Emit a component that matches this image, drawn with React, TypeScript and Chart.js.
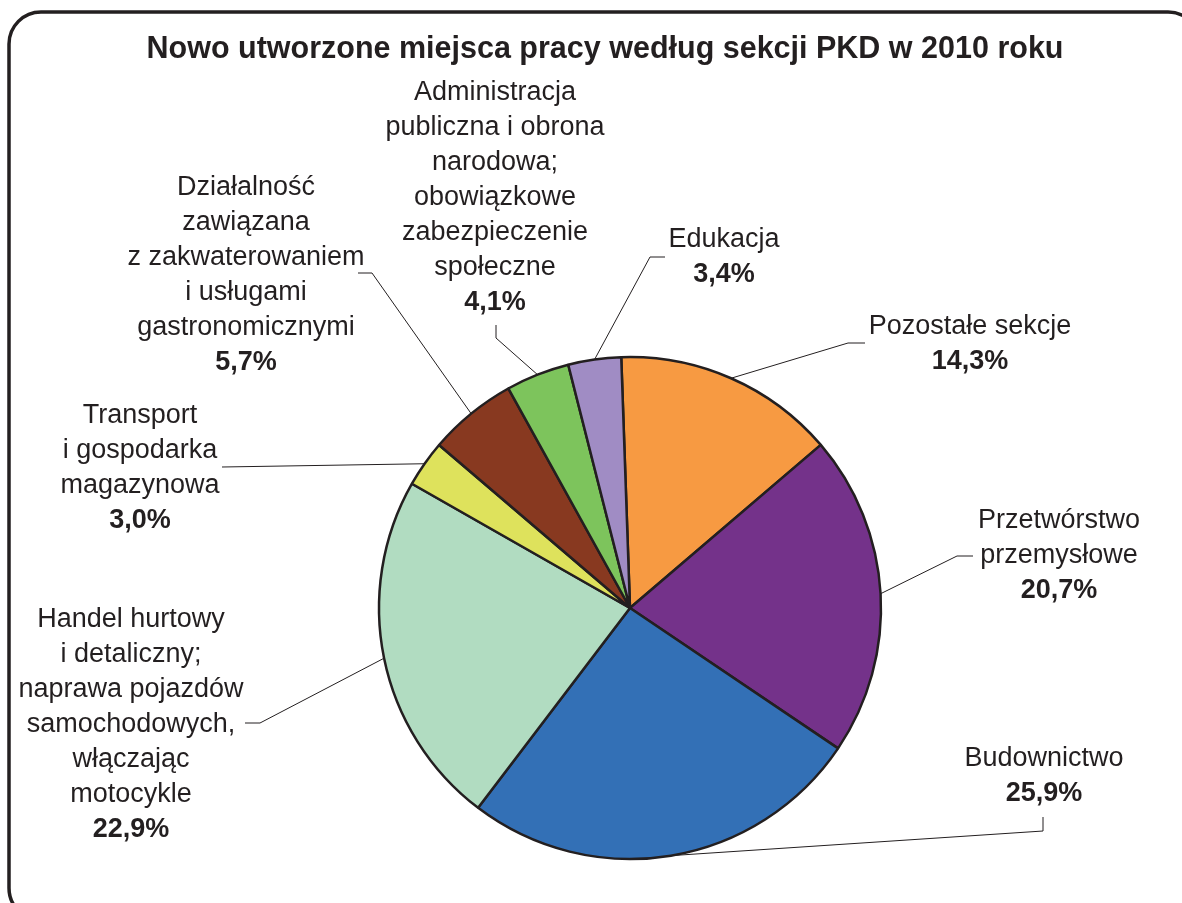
import { useEffect, useRef } from "react";
import { Chart, registerables } from "chart.js";

Chart.register(...registerables);

const TITLE = "Nowo utworzone miejsca pracy według sekcji PKD w 2010 roku";

const CATEGORIES = [
  "Pozostałe sekcje",
  "Przetwórstwo przemysłowe",
  "Budownictwo",
  "Handel hurtowy i detaliczny; naprawa pojazdów samochodowych, włączając motocykle",
  "Transport i gospodarka magazynowa",
  "Działalność zawiązana z zakwaterowaniem i usługami gastronomicznymi",
  "Administracja publiczna i obrona narodowa; obowiązkowe zabezpieczenie społeczne",
  "Edukacja",
];

const LABEL_LINES = [
  ["Pozostałe sekcje"],
  ["Przetwórstwo", "przemysłowe"],
  ["Budownictwo"],
  ["Handel hurtowy", "i detaliczny;", "naprawa pojazdów", "samochodowych,", "włączając", "motocykle"],
  ["Transport", "i gospodarka", "magazynowa"],
  ["Działalność", "zawiązana", "z zakwaterowaniem", "i usługami", "gastronomicznymi"],
  ["Administracja", "publiczna i obrona", "narodowa;", "obowiązkowe", "zabezpieczenie", "społeczne"],
  ["Edukacja"],
];

const VALUES = [14.3, 20.7, 25.9, 22.9, 3.0, 5.7, 4.1, 3.4];

const COLORS = ["#F79A42", "#74328A", "#3370B6", "#B1DCC1", "#DEE25C", "#883920", "#7DC45C", "#A08CC4"];

// layout of the label blocks: centre x, first line centre y, leader line elbows
const LABEL_LAYOUT = [
  { x: 970, y: 327, leader: [[865, 343], [848, 343]] },
  { x: 1059, y: 521, leader: [[973, 556], [957, 556]] },
  { x: 1044, y: 759, leader: [[1043, 817], [1043, 831]] },
  { x: 131, y: 620, leader: [[245, 723], [260, 723]] },
  { x: 140, y: 416, leader: [[222, 467]] },
  { x: 246, y: 188, leader: [[358, 273], [372, 273]] },
  { x: 495, y: 93, leader: [[496, 325], [496, 338]] },
  { x: 724, y: 240, leader: [[665, 257], [650, 257]] },
];

const INK = "#231F20";
const FONT = "'Liberation Sans', Arial, sans-serif";
const LINE_H = 35;

const fmt = (v: number) => v.toFixed(1).replace(".", ",") + "%";

const decorPlugin = {
  id: "decor",
  afterDraw(chart: any) {
    const ctx = chart.ctx as CanvasRenderingContext2D;
    ctx.save();

    // frame
    ctx.strokeStyle = INK;
    ctx.lineWidth = 3.5;
    const fx = 9, fy = 12, fw = 1200 - 9, fh = 920 - 12, r = 32;
    ctx.beginPath();
    ctx.moveTo(fx + r, fy);
    ctx.lineTo(fx + fw - r, fy);
    ctx.arcTo(fx + fw, fy, fx + fw, fy + r, r);
    ctx.lineTo(fx + fw, fy + fh - r);
    ctx.arcTo(fx + fw, fy + fh, fx + fw - r, fy + fh, r);
    ctx.lineTo(fx + r, fy + fh);
    ctx.arcTo(fx, fy + fh, fx, fy + fh - r, r);
    ctx.lineTo(fx, fy + r);
    ctx.arcTo(fx, fy, fx + r, fy, r);
    ctx.closePath();
    ctx.stroke();

    // title
    ctx.fillStyle = INK;
    ctx.textAlign = "center";
    ctx.textBaseline = "middle";
    ctx.font = `bold 30.5px ${FONT}`;
    ctx.fillText(TITLE, 605, 50);

    // leader lines
    const meta = chart.getDatasetMeta(0);
    ctx.lineWidth = 1;
    ctx.strokeStyle = INK;
    meta.data.forEach((arc: any, i: number) => {
      const p = arc.getProps(["x", "y", "startAngle", "endAngle", "outerRadius"], true);
      const mid = (p.startAngle + p.endAngle) / 2;
      const ex = p.x + Math.cos(mid) * p.outerRadius;
      const ey = p.y + Math.sin(mid) * p.outerRadius;
      const pts = LABEL_LAYOUT[i].leader;
      ctx.beginPath();
      ctx.moveTo(pts[0][0], pts[0][1]);
      for (let k = 1; k < pts.length; k++) ctx.lineTo(pts[k][0], pts[k][1]);
      ctx.lineTo(ex, ey);
      ctx.stroke();
    });

    // labels
    LABEL_LINES.forEach((lines, i) => {
      const lay = LABEL_LAYOUT[i];
      ctx.font = `27px ${FONT}`;
      lines.forEach((t, k) => ctx.fillText(t, lay.x, lay.y + k * LINE_H));
      ctx.font = `bold 27px ${FONT}`;
      ctx.fillText(fmt(VALUES[i]), lay.x, lay.y + lines.length * LINE_H);
    });

    ctx.restore();
  },
};

export default function App() {
  const ref = useRef<HTMLCanvasElement>(null);
  useEffect(() => {
    document.body.style.margin = "0";
    const chart = new Chart(ref.current as HTMLCanvasElement, {
      type: "pie",
      data: {
        labels: CATEGORIES,
        datasets: [
          {
            data: VALUES,
            backgroundColor: COLORS,
            borderColor: INK,
            borderWidth: 2.5,
            radius: 251,
          } as any,
        ],
      },
      options: {
        responsive: false,
        animation: false,
        rotation: -2,
        layout: { padding: { left: 78, right: 0, top: 313, bottom: 0 } },
        plugins: { legend: { display: false }, tooltip: { enabled: false }, title: { display: false } },
      },
      plugins: [decorPlugin],
    });
    return () => chart.destroy();
  }, []);
  return (
    <div style={{ position: "fixed", left: 0, top: 0, width: 1182, height: 903, background: "#fff" }}>
      <canvas ref={ref} width={1182} height={903} style={{ width: 1182, height: 903 }} />
    </div>
  );
}
